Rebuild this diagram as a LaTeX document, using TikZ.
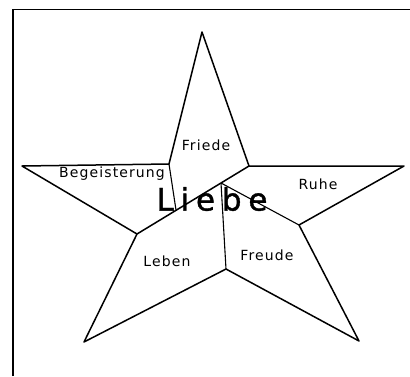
\documentclass[tikz,border=0pt]{standalone}
\usepackage{fontspec}
\setmainfont{DejaVu Sans}
\newfontfamily\wordfont[LetterSpace=8]{DejaVu Sans}
\newfontfamily\bigwordfont[LetterSpace=22,FakeBold=1.2]{DejaVu Sans}
\tikzset{
  starline/.style={line width=1.5pt, line join=round},
  thinline/.style={line width=1.1pt},
  word/.style={font=\wordfont\fontsize{14}{16}\selectfont},
}
\begin{document}
\begin{tikzpicture}[x=1pt, y=-1pt]
  \useasboundingbox (0,0) rectangle (410,376);
  % frame
  \draw[line width=1.8pt] (13,376) -- (13,9.5) -- (410,9.5);
  % star outline
  \coordinate (top) at (202,32);
  \coordinate (itl) at (169,164);
  \coordinate (lft) at (22,166);
  \coordinate (ill) at (137,234);
  \coordinate (blt) at (84,342);
  \coordinate (ibt) at (226,269);
  \coordinate (brt) at (359,341);
  \coordinate (ilr) at (299,225);
  \coordinate (rgt) at (404,166);
  \coordinate (itr) at (249,166);
  \draw[starline] (top) -- (itl) -- (lft) -- (ill) -- (blt) -- (ibt)
    -- (brt) -- (ilr) -- (rgt) -- (itr) -- cycle;
  % inner lines
  \coordinate (mid) at (221,183);
  \coordinate (cut) at (176,210);
  \draw[starline] (ill) -- (mid) -- (itr);
  \draw[thinline] (itl) -- (cut);
  \draw[thinline] (mid) -- (ibt);
  \draw[thinline] (mid) -- (ilr);
  % words
  \node[word] (friede) at (206,145) {Friede};
  \node[word] (begeisterung) at (112,174) {Begeisterung};
  \node[word] (ruhe) at (318,184) {Ruhe};
  \node[word] (leben) at (167,261) {Leben};
  \node[word] (freude) at (267,255) {Freude};
  \node[font=\bigwordfont\fontsize{31}{33}\selectfont] (liebe) at (212,199) {Liebe};
\end{tikzpicture}
\end{document}
